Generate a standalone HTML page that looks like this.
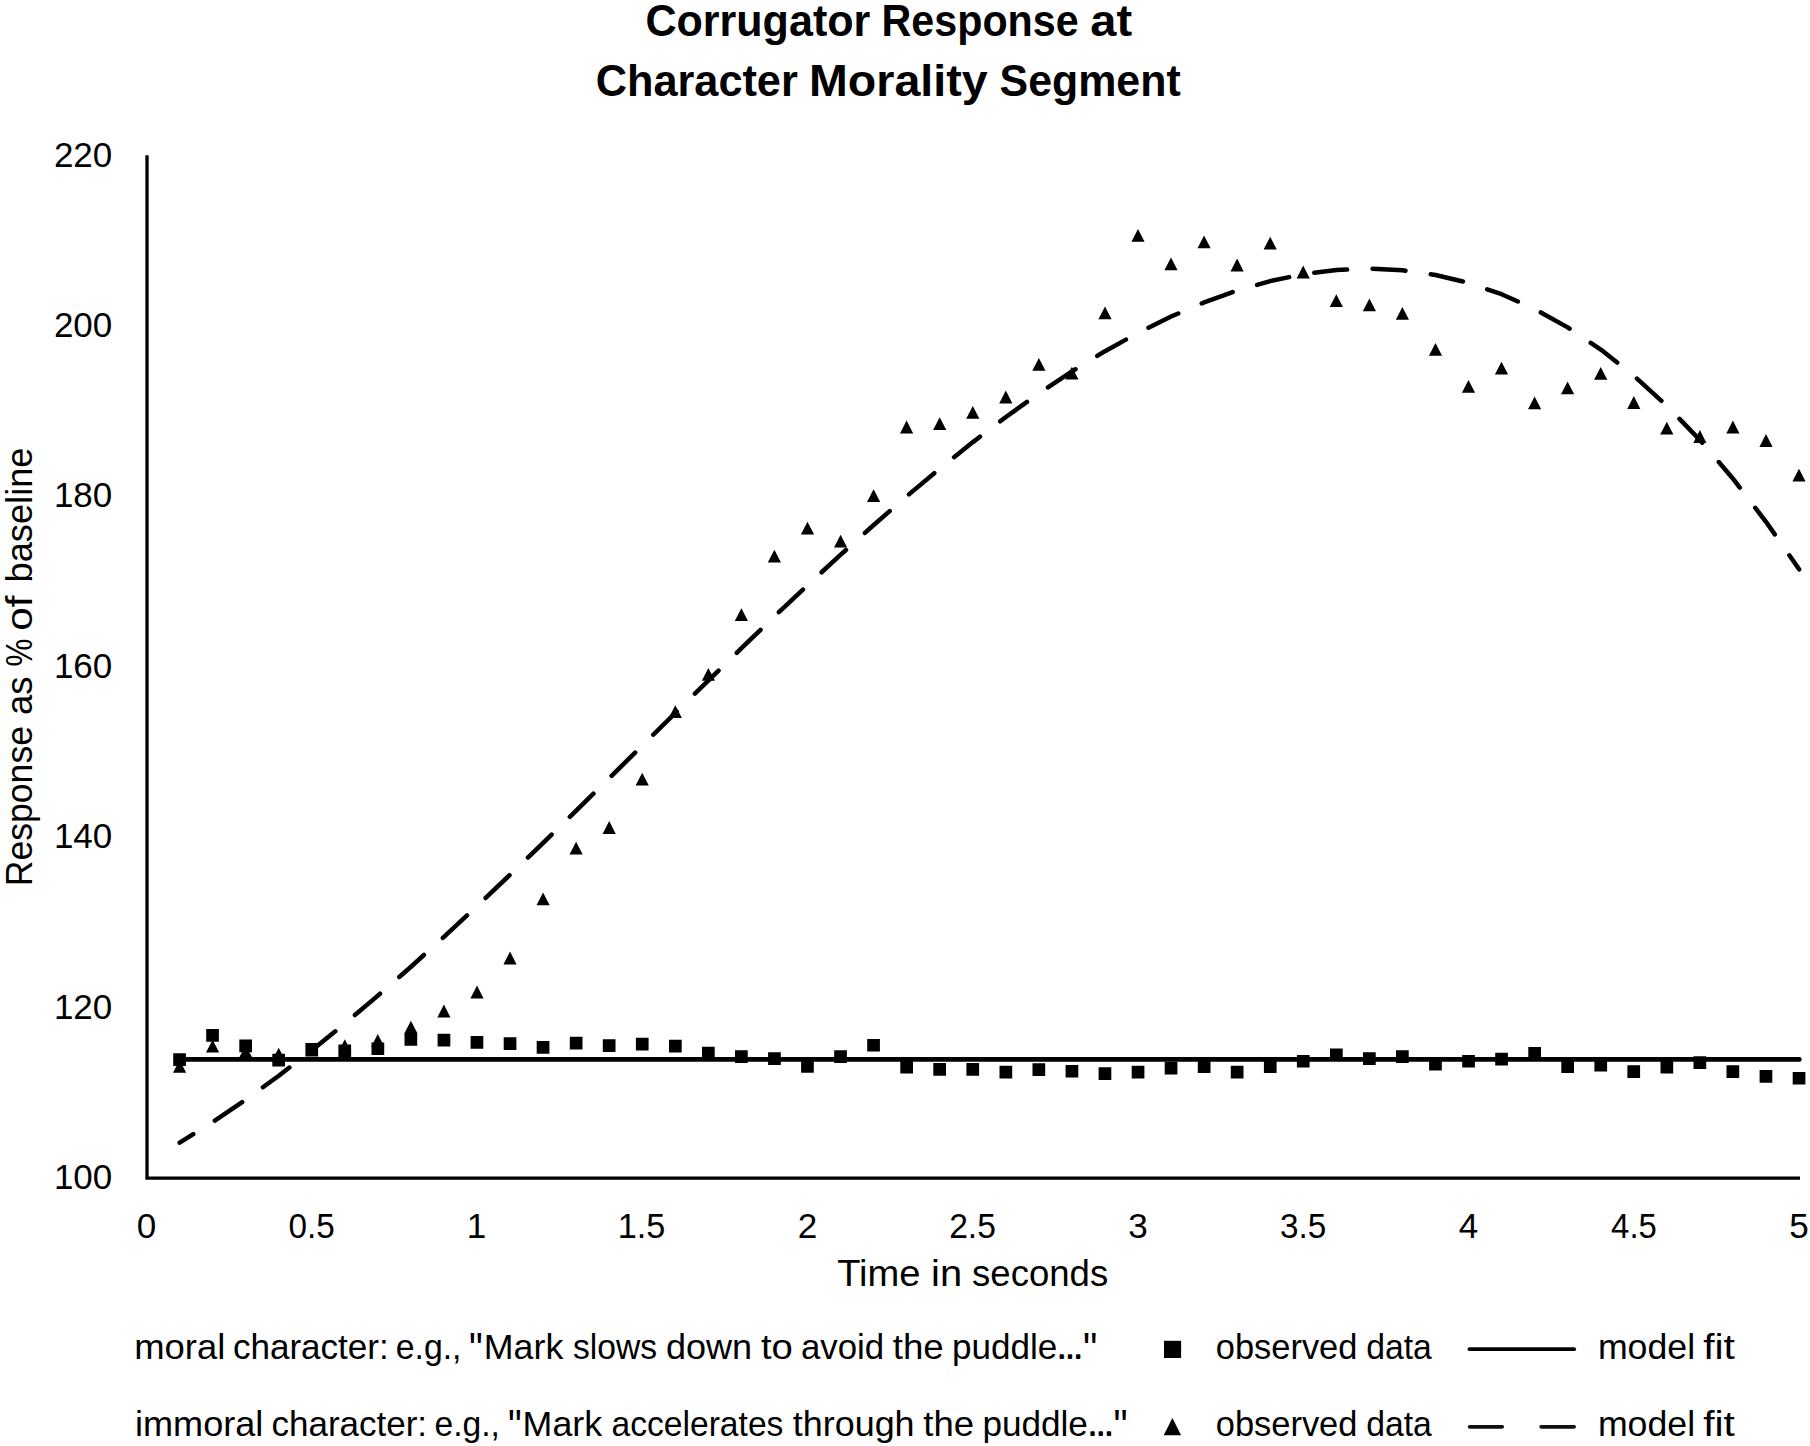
<!DOCTYPE html>
<html lang="en"><head><meta charset="utf-8"><title>Corrugator Response at Character Morality Segment</title>
<style>html,body{margin:0;padding:0;background:#fff}svg{display:block}text{font-family:"Liberation Sans",sans-serif;fill:#000;white-space:pre}</style></head><body>
<svg width="1810" height="1446" viewBox="0 0 1810 1446">
<rect width="1810" height="1446" fill="#fff"/>
<text y="36.0" font-size="45.0" font-weight="bold"><tspan x="645.4" textLength="224.9" lengthAdjust="spacingAndGlyphs">Corrugator</tspan> <tspan x="881.6" textLength="197.0" lengthAdjust="spacingAndGlyphs">Response</tspan> <tspan x="1090.3" textLength="41.8" lengthAdjust="spacingAndGlyphs">at</tspan></text>
<text y="95.8" font-size="45.0" font-weight="bold"><tspan x="595.7" textLength="202.1" lengthAdjust="spacingAndGlyphs">Character</tspan> <tspan x="809.0" textLength="178.6" lengthAdjust="spacingAndGlyphs">Morality</tspan> <tspan x="999.6" textLength="181.1" lengthAdjust="spacingAndGlyphs">Segment</tspan></text>
<path d="M147 155.3V1178.2H1800" fill="none" stroke="#000" stroke-width="3.3" stroke-linejoin="miter"/>
<text x="53.9" y="1188.9" font-size="35.0">100</text>
<text x="53.9" y="1018.5" font-size="35.0">120</text>
<text x="53.9" y="848.1" font-size="35.0">140</text>
<text x="53.9" y="677.7" font-size="35.0">160</text>
<text x="53.9" y="507.3" font-size="35.0">180</text>
<text x="53.9" y="336.9" font-size="35.0">200</text>
<text x="53.9" y="166.5" font-size="35.0">220</text>
<text x="136.7" y="1238.0" font-size="35.0" textLength="19.5" lengthAdjust="spacingAndGlyphs">0</text>
<text x="288.6" y="1238.0" font-size="35.0" textLength="46.3" lengthAdjust="spacingAndGlyphs">0.5</text>
<text x="466.7" y="1238.0" font-size="35.0" textLength="19.5" lengthAdjust="spacingAndGlyphs">1</text>
<text x="617.7" y="1238.0" font-size="35.0" textLength="47.6" lengthAdjust="spacingAndGlyphs">1.5</text>
<text x="797.7" y="1238.0" font-size="35.0" textLength="19.5" lengthAdjust="spacingAndGlyphs">2</text>
<text x="949.2" y="1238.0" font-size="35.0" textLength="46.7" lengthAdjust="spacingAndGlyphs">2.5</text>
<text x="1128.3" y="1238.0" font-size="35.0" textLength="19.5" lengthAdjust="spacingAndGlyphs">3</text>
<text x="1280.1" y="1238.0" font-size="35.0" textLength="46.3" lengthAdjust="spacingAndGlyphs">3.5</text>
<text x="1458.8" y="1238.0" font-size="35.0" textLength="19.5" lengthAdjust="spacingAndGlyphs">4</text>
<text x="1611.1" y="1238.0" font-size="35.0" textLength="45.7" lengthAdjust="spacingAndGlyphs">4.5</text>
<text x="1789.2" y="1238.0" font-size="35.0" textLength="19.5" lengthAdjust="spacingAndGlyphs">5</text>
<text y="1286.3" font-size="37.5"><tspan x="837.2" textLength="83.4" lengthAdjust="spacingAndGlyphs">Time</tspan> <tspan x="931.1" textLength="31.0" lengthAdjust="spacingAndGlyphs">in</tspan> <tspan x="972.1" textLength="136.1" lengthAdjust="spacingAndGlyphs">seconds</tspan></text>
<text y="0.0" font-size="37.5" transform="translate(31.5 0) rotate(-90)"><tspan x="-886.3" textLength="160.3" lengthAdjust="spacingAndGlyphs">Response</tspan> <tspan x="-715.0" textLength="38.6" lengthAdjust="spacingAndGlyphs">as</tspan> <tspan x="-666.5" textLength="27.9" lengthAdjust="spacingAndGlyphs">%</tspan> <tspan x="-630.8" textLength="35.2" lengthAdjust="spacingAndGlyphs">of</tspan> <tspan x="-582.5" textLength="135.0" lengthAdjust="spacingAndGlyphs">baseline</tspan></text>
<line x1="179.7" y1="1059.4" x2="1799.4" y2="1059.4" stroke="#000" stroke-width="4.6" stroke-linecap="round"/>
<polyline points="179.7,1142.7 212.7,1122.0 245.8,1099.7 278.8,1075.7 311.9,1050.3 344.9,1023.6 377.9,995.6 411.0,966.7 444.0,936.8 477.1,906.1 510.1,874.7 543.2,842.8 576.2,810.6 609.3,778.1 642.4,745.5 675.4,712.8 708.5,680.4 741.5,648.2 774.5,616.4 807.6,585.2 840.7,554.7 873.7,525.0 906.8,496.2 939.8,468.6 972.9,442.1 1005.9,417.0 1039.0,393.4 1072.0,371.4 1105.0,351.2 1138.1,332.9 1171.1,316.5 1204.2,302.4 1237.2,290.5 1270.3,281.1 1303.3,274.2 1336.4,270.0 1369.5,268.7 1402.5,270.3 1435.5,275.0 1468.6,282.9 1501.6,294.2 1534.7,309.0 1567.7,327.4 1600.8,349.6 1633.8,375.7 1666.9,405.8 1700.0,440.1 1733.0,478.7 1766.0,521.8 1799.1,569.3" fill="none" stroke="#000" stroke-width="4.5" stroke-linecap="round" stroke-linejoin="round" stroke-dasharray="33 25.5" stroke-dashoffset="17"/>
<path d="M179.6 1059.9l6.6 12.8h-13.2zM212.6 1039.7l6.6 12.8h-13.2zM245.7 1044.9l6.6 12.8h-13.2zM278.7 1047.8l6.6 12.8h-13.2zM311.8 1043.6l6.6 12.8h-13.2zM344.8 1039.3l6.6 12.8h-13.2zM377.8 1033.9l6.6 12.8h-13.2zM410.9 1020.7l6.6 12.8h-13.2zM443.9 1004.6l6.6 12.8h-13.2zM477.0 985.6l6.6 12.8h-13.2zM510.0 951.6l6.6 12.8h-13.2zM543.1 892.4l6.6 12.8h-13.2zM576.1 841.8l6.6 12.8h-13.2zM609.2 821.1l6.6 12.8h-13.2zM642.2 772.8l6.6 12.8h-13.2zM675.3 705.3l6.6 12.8h-13.2zM708.4 668.0l6.6 12.8h-13.2zM741.4 608.3l6.6 12.8h-13.2zM774.4 549.7l6.6 12.8h-13.2zM807.5 521.7l6.6 12.8h-13.2zM840.6 534.8l6.6 12.8h-13.2zM873.6 489.3l6.6 12.8h-13.2zM906.6 420.6l6.6 12.8h-13.2zM939.7 417.3l6.6 12.8h-13.2zM972.8 405.9l6.6 12.8h-13.2zM1005.8 390.6l6.6 12.8h-13.2zM1038.9 358.0l6.6 12.8h-13.2zM1071.9 366.8l6.6 12.8h-13.2zM1105.0 306.5l6.6 12.8h-13.2zM1138.0 228.9l6.6 12.8h-13.2zM1171.0 257.5l6.6 12.8h-13.2zM1204.1 235.4l6.6 12.8h-13.2zM1237.1 258.6l6.6 12.8h-13.2zM1270.2 236.8l6.6 12.8h-13.2zM1303.2 265.6l6.6 12.8h-13.2zM1336.3 294.3l6.6 12.8h-13.2zM1369.4 298.5l6.6 12.8h-13.2zM1402.4 307.0l6.6 12.8h-13.2zM1435.5 343.0l6.6 12.8h-13.2zM1468.5 379.9l6.6 12.8h-13.2zM1501.5 361.8l6.6 12.8h-13.2zM1534.6 396.5l6.6 12.8h-13.2zM1567.6 381.5l6.6 12.8h-13.2zM1600.7 366.9l6.6 12.8h-13.2zM1633.8 396.1l6.6 12.8h-13.2zM1666.8 421.8l6.6 12.8h-13.2zM1699.9 430.1l6.6 12.8h-13.2zM1732.9 420.6l6.6 12.8h-13.2zM1766.0 434.1l6.6 12.8h-13.2zM1799.0 468.7l6.6 12.8h-13.2z" fill="#000"/>
<path d="M173.2 1053.2h12.7v12.7h-12.7zM206.2 1029.1h12.7v12.7h-12.7zM239.3 1039.5h12.7v12.7h-12.7zM272.3 1053.8h12.7v12.7h-12.7zM305.4 1043.1h12.7v12.7h-12.7zM338.4 1044.4h12.7v12.7h-12.7zM371.5 1042.4h12.7v12.7h-12.7zM404.5 1033.0h12.7v12.7h-12.7zM437.6 1033.8h12.7v12.7h-12.7zM470.6 1036.1h12.7v12.7h-12.7zM503.7 1037.2h12.7v12.7h-12.7zM536.7 1041.1h12.7v12.7h-12.7zM569.8 1036.8h12.7v12.7h-12.7zM602.8 1039.2h12.7v12.7h-12.7zM635.9 1037.7h12.7v12.7h-12.7zM669.0 1039.8h12.7v12.7h-12.7zM702.0 1046.8h12.7v12.7h-12.7zM735.0 1050.2h12.7v12.7h-12.7zM768.1 1052.2h12.7v12.7h-12.7zM801.1 1060.0h12.7v12.7h-12.7zM834.2 1050.2h12.7v12.7h-12.7zM867.2 1038.9h12.7v12.7h-12.7zM900.3 1060.9h12.7v12.7h-12.7zM933.3 1063.0h12.7v12.7h-12.7zM966.4 1063.0h12.7v12.7h-12.7zM999.5 1065.8h12.7v12.7h-12.7zM1032.5 1063.2h12.7v12.7h-12.7zM1065.6 1064.9h12.7v12.7h-12.7zM1098.6 1067.2h12.7v12.7h-12.7zM1131.7 1065.8h12.7v12.7h-12.7zM1164.7 1061.8h12.7v12.7h-12.7zM1197.8 1060.2h12.7v12.7h-12.7zM1230.8 1065.8h12.7v12.7h-12.7zM1263.9 1060.2h12.7v12.7h-12.7zM1296.9 1054.9h12.7v12.7h-12.7zM1330.0 1048.4h12.7v12.7h-12.7zM1363.0 1052.2h12.7v12.7h-12.7zM1396.0 1050.2h12.7v12.7h-12.7zM1429.1 1057.9h12.7v12.7h-12.7zM1462.2 1054.9h12.7v12.7h-12.7zM1495.2 1052.8h12.7v12.7h-12.7zM1528.3 1046.9h12.7v12.7h-12.7zM1561.3 1060.2h12.7v12.7h-12.7zM1594.4 1058.8h12.7v12.7h-12.7zM1627.4 1065.2h12.7v12.7h-12.7zM1660.5 1060.8h12.7v12.7h-12.7zM1693.5 1056.2h12.7v12.7h-12.7zM1726.5 1065.2h12.7v12.7h-12.7zM1759.6 1070.1h12.7v12.7h-12.7zM1792.7 1071.9h12.7v12.7h-12.7z" fill="#000"/>
<text font-size="34.5"><tspan x="134.2" y="1358.6" textLength="91.1" lengthAdjust="spacingAndGlyphs">moral</tspan> <tspan x="232.9" y="1358.6" textLength="155.9" lengthAdjust="spacingAndGlyphs">character:</tspan> <tspan x="395.7" y="1358.6" textLength="65.8" lengthAdjust="spacingAndGlyphs">e.g.,</tspan> <tspan x="469.1" y="1364.8" font-size="46.3" textLength="13.7" lengthAdjust="spacingAndGlyphs">&quot;</tspan><tspan x="483.8" y="1358.6" textLength="79.5" lengthAdjust="spacingAndGlyphs">Mark</tspan> <tspan x="573.0" y="1358.6" textLength="84.2" lengthAdjust="spacingAndGlyphs">slows</tspan> <tspan x="665.9" y="1358.6" textLength="86.2" lengthAdjust="spacingAndGlyphs">down</tspan> <tspan x="760.9" y="1358.6" textLength="31.9" lengthAdjust="spacingAndGlyphs">to</tspan> <tspan x="800.9" y="1358.6" textLength="83.3" lengthAdjust="spacingAndGlyphs">avoid</tspan> <tspan x="892.7" y="1358.6" textLength="51.0" lengthAdjust="spacingAndGlyphs">the</tspan> <tspan x="951.9" y="1358.6" textLength="105.3" lengthAdjust="spacingAndGlyphs">puddle</tspan><tspan x="1057.1" y="1358.1" font-size="25.9" stroke="#000" stroke-width="1.8" stroke-linejoin="round">…</tspan><tspan x="1082.9" y="1364.8" font-size="46.3" textLength="14.3" lengthAdjust="spacingAndGlyphs">&quot;</tspan></text>
<text font-size="34.5"><tspan x="135.0" y="1435.7" textLength="128.3" lengthAdjust="spacingAndGlyphs">immoral</tspan> <tspan x="271.5" y="1435.7" textLength="155.6" lengthAdjust="spacingAndGlyphs">character:</tspan> <tspan x="434.5" y="1435.7" textLength="65.4" lengthAdjust="spacingAndGlyphs">e.g.,</tspan> <tspan x="507.9" y="1441.9" font-size="46.3" textLength="13.7" lengthAdjust="spacingAndGlyphs">&quot;</tspan><tspan x="522.6" y="1435.7" textLength="79.5" lengthAdjust="spacingAndGlyphs">Mark</tspan> <tspan x="611.5" y="1435.7" textLength="171.9" lengthAdjust="spacingAndGlyphs">accelerates</tspan> <tspan x="792.8" y="1435.7" textLength="121.8" lengthAdjust="spacingAndGlyphs">through</tspan> <tspan x="923.3" y="1435.7" textLength="50.8" lengthAdjust="spacingAndGlyphs">the</tspan> <tspan x="982.4" y="1435.7" textLength="105.5" lengthAdjust="spacingAndGlyphs">puddle</tspan><tspan x="1087.8" y="1435.2" font-size="25.9" stroke="#000" stroke-width="1.8" stroke-linejoin="round">…</tspan><tspan x="1113.6" y="1441.9" font-size="46.3" textLength="14.1" lengthAdjust="spacingAndGlyphs">&quot;</tspan></text>
<rect x="1164" y="1340.8" width="17.1" height="17.2" fill="#000"/>
<path d="M1172.4 1418.1l8.7 17.1h-17.4z" fill="#000"/>
<text y="1358.6" font-size="34.5"><tspan x="1215.8" textLength="141.6" lengthAdjust="spacingAndGlyphs">observed</tspan> <tspan x="1366.2" textLength="65.7" lengthAdjust="spacingAndGlyphs">data</tspan></text>
<text y="1358.6" font-size="34.5"><tspan x="1597.9" textLength="97.2" lengthAdjust="spacingAndGlyphs">model</tspan> <tspan x="1703.2" textLength="31.8" lengthAdjust="spacingAndGlyphs">fit</tspan></text>
<text y="1435.7" font-size="34.5"><tspan x="1215.8" textLength="141.6" lengthAdjust="spacingAndGlyphs">observed</tspan> <tspan x="1366.2" textLength="65.7" lengthAdjust="spacingAndGlyphs">data</tspan></text>
<text y="1435.7" font-size="34.5"><tspan x="1597.9" textLength="97.2" lengthAdjust="spacingAndGlyphs">model</tspan> <tspan x="1703.2" textLength="31.8" lengthAdjust="spacingAndGlyphs">fit</tspan></text>
<line x1="1469.5" y1="1349.2" x2="1574.1" y2="1349.2" stroke="#000" stroke-width="3.8" stroke-linecap="round"/>
<path d="M1469.6 1426.85H1502.3M1541.1 1426.85H1574.2" stroke="#111" stroke-width="3.6" stroke-linecap="round" fill="none"/>
</svg></body></html>
